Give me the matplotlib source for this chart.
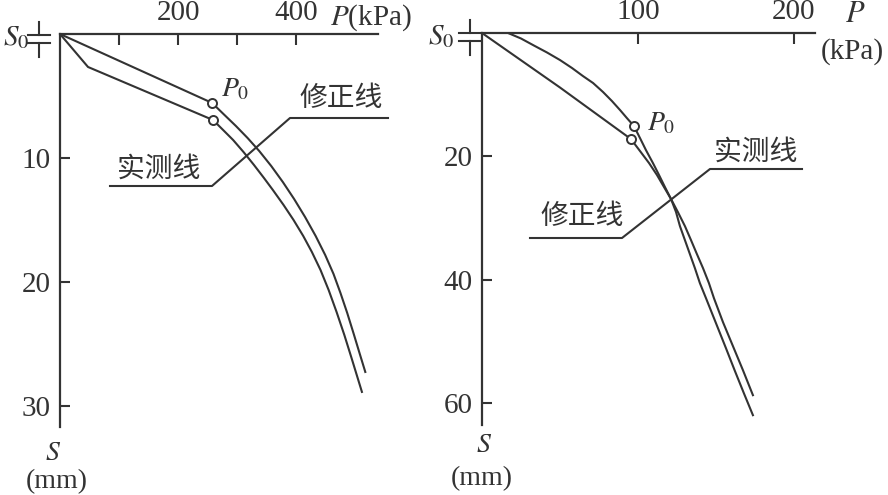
import matplotlib
matplotlib.use('Agg')
import matplotlib.pyplot as plt
from matplotlib.lines import Line2D

plt.rcParams['font.family'] = ['Liberation Serif', 'DejaVu Serif']
plt.rcParams['mathtext.fontset'] = 'stix'

# 左图 (P 单位 kPa, S 单位 mm)
left_corr_p = [0, 257.3, 276.5, 297.6, 317.4, 337.1, 357.4, 377.0, 396.1, 414.6,
               432.5, 448.6, 462.7, 474.5, 485.9, 496.4, 506.7, 516.5]
left_corr_s = [0, 5.56, 6.45, 7.42, 8.39, 9.44, 10.65, 11.94, 13.31, 14.76,
               16.29, 17.82, 19.35, 20.89, 22.5, 24.11, 25.73, 27.26]
left_meas_p = [0, 47.4, 259.0, 275.9, 292.9, 310.5, 328.1, 345.0, 360.1, 378.2,
               395.1, 411.5, 426.1, 440.7, 454.5, 467.9, 481.0, 493.2, 502.0, 510.8]
left_meas_s = [0, 2.66, 6.94, 7.74, 8.55, 9.52, 10.56, 11.61, 12.58, 13.79,
               15.0, 16.29, 17.58, 19.03, 20.65, 22.42, 24.27, 26.13, 27.5, 28.87]
left_p0_p = [257.3, 259.0]
left_p0_s = [5.56, 6.94]
left_xticks = [100, 200, 300, 400]
left_xlabels = ['', '200', '', '400']
left_yticks = [10, 20, 30]

# 右图
right_a_p = [0, 50.0, 95.5, 101.3, 107.1, 112.2, 116.7, 121.2, 125.6, 130.1, 134.0,
             137.8, 141.7, 145.5, 148.7, 154.5, 160.9, 167.3, 173.7]
right_a_s = [0, 8.83, 17.18, 19.12, 21.07, 23.01, 24.96, 26.90, 29.01, 31.28, 33.55,
             35.82, 38.09, 40.52, 42.95, 46.84, 50.73, 54.62, 58.67]
right_b_p = [16.7, 25.0, 33.3, 41.7, 50.0, 57.7, 64.7, 71.2, 77.6, 83.3, 88.5, 92.9,
             97.4, 101.3, 105.1, 109.6, 113.5, 117.3, 121.2, 124.4, 126.9, 130.1,
             133.3, 136.5, 139.7, 143.6, 150.0, 156.4, 162.2, 167.9, 173.7]
right_b_s = [0, 0.89, 2.03, 3.16, 4.38, 5.67, 6.97, 8.10, 9.56, 11.02, 12.48, 13.78,
             15.07, 17.02, 18.96, 21.07, 23.01, 24.96, 26.90, 29.01, 31.28, 33.55,
             35.82, 38.09, 40.52, 42.95, 47.0, 51.05, 54.78, 58.35, 61.91]
right_p0_p = [97.4, 95.5]
right_p0_s = [15.07, 17.18]
right_xticks = [100, 200]
right_xlabels = ['100', '200']
right_yticks = [20, 40, 60]

W, H = 888, 495
C = '#333333'
CJK = ['Noto Sans CJK SC', 'DejaVu Sans']

fig = plt.figure(figsize=(W / 100, H / 100), dpi=100)
fig.patch.set_facecolor('white')


def fx(x):
    return x / W


def fy(y):
    return 1 - y / H


def make_axes(x0, x1, y0, y1):
    ax = fig.add_axes([fx(x0), fy(y1), (x1 - x0) / W, (y1 - y0) / H])
    ax.spines['right'].set_visible(False)
    ax.spines['bottom'].set_visible(False)
    for s in ['top', 'left']:
        ax.spines[s].set_linewidth(1.6)
        ax.spines[s].set_color(C)
    ax.xaxis.set_ticks_position('top')
    ax.tick_params(axis='x', direction='in', length=8, width=1.5, color=C,
                   labelsize=21, labelcolor=C, pad=6)
    ax.tick_params(axis='y', direction='in', length=7, width=1.5, color=C,
                   labelsize=21, labelcolor=C, pad=7)
    ax.patch.set_alpha(0)
    return ax


def s0_mark(x, y):
    # S0 符号
    kw = dict(color=C, lw=1.5)
    fig.add_artist(Line2D([fx(x), fx(x)], [fy(y - 13), fy(y)], **kw))
    fig.add_artist(Line2D([fx(x - 11), fx(x + 11)], [fy(y), fy(y)], **kw))
    fig.add_artist(Line2D([fx(x - 11), fx(x + 11)], [fy(y + 8), fy(y + 8)], **kw))
    fig.add_artist(Line2D([fx(x), fx(x)], [fy(y + 8), fy(y + 22)], **kw))


# ---- 左图 ----
ax1 = make_axes(60, 378, 34, 427)
ax1.set_xlim(0, 538)
ax1.set_ylim(31.7, 0)
ax1.set_xticks(left_xticks)
ax1.set_xticklabels(left_xlabels)
ax1.set_yticks(left_yticks)
ax1.plot(left_corr_p, left_corr_s, color=C, lw=1.5)
ax1.plot(left_meas_p, left_meas_s, color=C, lw=1.5)
ax1.plot(left_p0_p, left_p0_s, 'o', ms=6.5, mfc='white', mec=C, mew=1.4, ls='none')

# ---- 右图 ----
ax2 = make_axes(482, 815, 33, 425)
ax2.set_xlim(0, 213.5)
ax2.set_ylim(63.5, 0)
ax2.set_xticks(right_xticks)
ax2.set_xticklabels(right_xlabels)
ax2.set_yticks(right_yticks)
ax2.plot(right_a_p, right_a_s, color=C, lw=1.5)
ax2.plot(right_b_p, right_b_s, color=C, lw=1.5)
ax2.plot(right_p0_p, right_p0_s, 'o', ms=6.5, mfc='white', mec=C, mew=1.4, ls='none')

# 文字与引线
t = dict(color=C, va='center')
fig.text(fx(3), fy(38), r'$S_0$', fontsize=21, ha='left', **t)
s0_mark(39, 35)
fig.text(fx(428), fy(37), r'$S_0$', fontsize=21, ha='left', **t)
s0_mark(470, 33)

fig.text(fx(330), fy(18), r'$P$(kPa)', fontsize=21, ha='left', **t)
fig.text(fx(855), fy(14), r'$P$', fontsize=22, ha='center', **t)
fig.text(fx(852), fy(52), '(kPa)', fontsize=21, ha='center', **t)

fig.text(fx(53), fy(453), r'$S$', fontsize=20, ha='center', **t)
fig.text(fx(57), fy(482), '(mm)', fontsize=20, ha='center', **t)
fig.text(fx(484), fy(446), r'$S$', fontsize=20, ha='center', **t)
fig.text(fx(482), fy(479), '(mm)', fontsize=20, ha='center', **t)

fig.text(fx(221), fy(90), r'$P_0$', fontsize=20, ha='left', **t)
fig.text(fx(647), fy(124), r'$P_0$', fontsize=20, ha='left', **t)

fig.text(fx(159), fy(169), '实测线', family=CJK, fontsize=20, ha='center', **t)
fig.text(fx(341), fy(98), '修正线', family=CJK, fontsize=20, ha='center', **t)
fig.add_artist(Line2D([fx(110), fx(212), fx(290), fx(388)],
                      [fy(186), fy(186), fy(118), fy(118)], color=C, lw=1.5))

fig.text(fx(582), fy(216), '修正线', family=CJK, fontsize=20, ha='center', **t)
fig.text(fx(756), fy(152), '实测线', family=CJK, fontsize=20, ha='center', **t)
fig.add_artist(Line2D([fx(530), fx(622), fx(710), fx(802)],
                      [fy(238), fy(238), fy(169), fy(169)], color=C, lw=1.5))

fig.savefig('out.png', dpi=100, facecolor='white')
